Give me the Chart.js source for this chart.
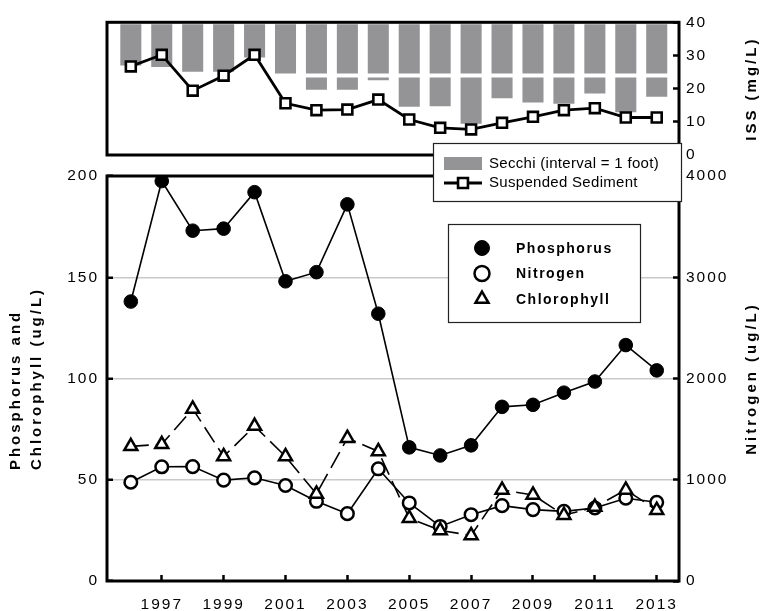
<!DOCTYPE html>
<html>
<head>
<meta charset="utf-8">
<script src="https://cdn.jsdelivr.net/npm/chart.js@4.4.1/dist/chart.umd.min.js"></script>
<style>
  html, body { margin: 0; padding: 0; background: #fff; }
  #wrap { position: relative; width: 765px; height: 611px; }
  #wrap canvas { position: absolute; left: 0; top: 0; }
</style>
</head>
<body>
<div id="wrap">
  <canvas id="nutrients" width="765" height="611"></canvas>
  <canvas id="sediment" width="765" height="611"></canvas>
</div>
<script>
// Sampling years
const years = [1996, 1997, 1998, 1999, 2000, 2001, 2002, 2003, 2004,
               2005, 2006, 2007, 2008, 2009, 2010, 2011, 2012, 2013];

// Water quality series (ug/L)
const phosphorus  = [138, 197.5, 173, 174, 192, 148, 152.5, 186, 132,
                     66, 62, 67, 86, 87, 93, 98.5, 116.5, 104];
const chlorophyll = [66.5, 67.5, 85, 61.5, 76.5, 61.5, 43, 70.5, 64,
                     31, 25, 22.5, 45, 42.5, 32.5, 36.5, 45, 35];
const nitrogen    = [975, 1128, 1130, 996, 1019, 943, 787, 665, 1108,
                     771, 539, 655, 744, 705, 688, 721, 817, 777];

// Inorganic suspended sediment (mg/L) and Secchi depth (feet)
const suspendedSediment = [26.7, 30.2, 19.4, 23.9, 30.2, 15.6, 13.5, 13.7, 16.7,
                           10.7, 8.2, 7.7, 9.7, 11.5, 13.5, 14.1, 11.3, 11.3];
const secchiFeet = [0.85, 0.88, 0.97, 0.97, 0.7, 1.0, 1.31, 1.31, 1.13,
                    1.63, 1.62, 1.95, 1.47, 1.55, 1.57, 1.38, 1.73, 1.44];

// Tick labels
const yearTicks = [1997, 1999, 2001, 2003, 2005, 2007, 2009, 2011, 2013];
const pcTicks   = [0, 50, 100, 150, 200];
const nTicks    = [0, 1000, 2000, 3000, 4000];
const issTicks  = [0, 10, 20, 30, 40];

const FONT = '"Liberation Sans", Arial, Helvetica, sans-serif';
const X_MIN = 1995.23, X_MAX = 2013.72;
const BAR_GRAY = '#949497';

Chart.defaults.font.family = FONT;
Chart.defaults.color = '#000';
Chart.defaults.animation = false;

const pts = (vals) => years.map((x, i) => ({ x, y: vals[i] }));
const fixedTicks = (list) => (scale) => { scale.ticks = list.map(v => ({ value: v })); };
const plainNumber = (v) => String(v);

// Left-aligned text with extra tracking, laid out one glyph at a time.
function trackedText(ctx, text, x, y, tracking) {
  ctx.letterSpacing = '0px';
  ctx.textAlign = 'left';
  let cx = x;
  for (const ch of text) {
    ctx.fillText(ch, cx, y);
    cx += ctx.measureText(ch).width + tracking;
  }
}

// Axis titles read upward on both sides, with the lines of a
// multi-line title sharing a common starting edge.
function drawUprightTitle(scale, spacing) {
  const t = scale.options.title;
  if (!t || !t.display) return;
  const ctx = scale.ctx;
  const font = Chart.helpers.toFont(t.font);
  const pad = Chart.helpers.toPadding(t.padding);
  const lines = [].concat(t.text);
  ctx.save();
  ctx.letterSpacing = spacing;
  ctx.font = font.string;
  ctx.fillStyle = t.color || '#000';
  const widest = Math.max(...lines.map(s => ctx.measureText(s).width));
  const lh = font.lineHeight;
  const x0 = scale.position === 'left'
    ? scale.left + pad.top + lh / 2
    : scale.right - pad.top - lh / 2 - (lines.length - 1) * lh;
  const y0 = (scale.top + scale.bottom) / 2 + widest / 2;
  ctx.translate(x0, y0);
  ctx.rotate(-Math.PI / 2);
  ctx.textAlign = 'left';
  ctx.textBaseline = 'middle';
  lines.forEach((s, i) => ctx.fillText(s, 0, i * lh));
  ctx.restore();
}

const textStyle = {
  id: 'textStyle',
  beforeDraw(chart, args, opts) {
    chart.ctx.letterSpacing = opts.tickSpacing || '0px';
    for (const scale of Object.values(chart.scales)) {
      if (scale.$upright) continue;
      scale.$upright = true;
      scale.drawTitle = function () { drawUprightTitle(this, opts.titleSpacing || '0px'); };
    }
  }
};

// Heavy box around the plotting area
const frame = {
  id: 'frame',
  afterDatasetsDraw(chart, args, opts) {
    const { ctx, chartArea: a } = chart;
    ctx.save();
    ctx.strokeStyle = '#000';
    ctx.lineWidth = opts.width || 3;
    ctx.strokeRect(a.left, a.top, a.right - a.left, a.bottom - a.top);
    ctx.restore();
  }
};

// Boxed key for the nutrient panel
const nutrientKey = {
  id: 'nutrientKey',
  afterDraw(chart, args, o) {
    const ctx = chart.ctx;
    ctx.save();
    ctx.fillStyle = '#fff';
    ctx.fillRect(o.left, o.top, o.width, o.height);
    ctx.strokeStyle = '#222';
    ctx.lineWidth = 1.2;
    ctx.strokeRect(o.left + 0.5, o.top + 0.5, o.width, o.height);
    [0, 1, 2].forEach((di, row) => {
      const ds = chart.data.datasets[di];
      const y = o.top + o.firstRow + row * o.rowGap;
      ctx.fillStyle = ds.pointBackgroundColor;
      ctx.strokeStyle = ds.pointBorderColor;
      ctx.lineWidth = ds.pointBorderWidth;
      ctx.setLineDash([]);
      Chart.helpers.drawPoint(ctx, {
        pointStyle: ds.pointStyle, radius: o.markerRadius, borderWidth: ds.pointBorderWidth, rotation: 0
      }, o.left + o.markerX, y);
      ctx.fillStyle = '#000';
      ctx.font = 'bold 14px ' + FONT;
      ctx.textBaseline = 'middle';
      trackedText(ctx, ds.label, o.left + o.textX, y + 1, 1.5);
    });
    ctx.restore();
  }
};

// Boxed key for the water clarity panel
const clarityKey = {
  id: 'clarityKey',
  afterDraw(chart, args, o) {
    const ctx = chart.ctx;
    const bars = chart.data.datasets[1];
    const line = chart.data.datasets[0];
    ctx.save();
    ctx.fillStyle = '#fff';
    ctx.fillRect(o.left, o.top, o.width, o.height);
    ctx.strokeStyle = '#222';
    ctx.lineWidth = 1.2;
    ctx.strokeRect(o.left + 0.5, o.top + 0.5, o.width, o.height);

    const y1 = o.top + o.firstRow, y2 = y1 + o.rowGap;
    ctx.fillStyle = bars.backgroundColor;
    ctx.fillRect(o.left + o.swatchX, y1 - 7, o.swatchW, 13);

    ctx.strokeStyle = line.borderColor;
    ctx.lineWidth = line.borderWidth;
    ctx.beginPath();
    ctx.moveTo(o.left + o.swatchX, y2);
    ctx.lineTo(o.left + o.swatchX + o.swatchW, y2);
    ctx.stroke();
    ctx.fillStyle = line.pointBackgroundColor;
    ctx.lineWidth = line.pointBorderWidth;
    Chart.helpers.drawPoint(ctx, {
      pointStyle: line.pointStyle, radius: line.pointRadius, borderWidth: line.pointBorderWidth, rotation: 0
    }, o.left + o.swatchX + o.swatchW / 2, y2);

    ctx.fillStyle = '#000';
    ctx.font = '15px ' + FONT;
    ctx.textBaseline = 'middle';
    trackedText(ctx, bars.label, o.left + o.textX, y1, 0.3);
    trackedText(ctx, line.label, o.left + o.textX, y2, 0.3);
    ctx.restore();
  }
};

const tickFont = { size: 15.5 };
const titleFont = { size: 15, weight: 'bold', lineHeight: 1.4 };
const inwardTicks = { tickLength: -6, tickWidth: 2.5, tickColor: '#000' };

// Lower panel: phosphorus, chlorophyll and nitrogen
new Chart(document.getElementById('nutrients'), {
  type: 'line',
  data: {
    datasets: [
      {
        label: 'Phosphorus', data: pts(phosphorus), yAxisID: 'yPC', order: 0,
        borderColor: '#000', borderWidth: 1.6,
        pointStyle: 'circle', pointRadius: 6.8, pointBorderWidth: 1,
        pointBackgroundColor: '#000', pointBorderColor: '#000'
      },
      {
        label: 'Nitrogen', data: pts(nitrogen), yAxisID: 'yN', order: 2,
        borderColor: '#000', borderWidth: 1.6,
        pointStyle: 'circle', pointRadius: 6.3, pointBorderWidth: 2.5,
        pointBackgroundColor: '#fff', pointBorderColor: '#000'
      },
      {
        label: 'Chlorophyll', data: pts(chlorophyll), yAxisID: 'yPC', order: 1,
        borderColor: '#000', borderWidth: 1.6, borderDash: [18, 7],
        pointStyle: 'triangle', pointRadius: 7.5, pointBorderWidth: 2.5,
        pointBackgroundColor: '#fff', pointBorderColor: '#000'
      }
    ]
  },
  options: {
    responsive: false,
    devicePixelRatio: 1,
    layout: { padding: { top: 176, left: 0, right: 0, bottom: 0 } },
    plugins: {
      legend: { display: false },
      tooltip: { enabled: false },
      textStyle: { tickSpacing: '2px', titleSpacing: '3px' },
      frame: { width: 3 },
      nutrientKey: { left: 448, top: 224, width: 192, height: 98,
                     firstRow: 24, rowGap: 25.5, markerX: 34, markerRadius: 7.5, textX: 68 }
    },
    scales: {
      x: {
        type: 'linear', min: X_MIN, max: X_MAX, offset: false,
        afterBuildTicks: fixedTicks(yearTicks),
        afterFit: (s) => { s.height = 30; },
        ticks: { font: tickFont, padding: 20, autoSkip: false, maxRotation: 0, callback: plainNumber },
        grid: { drawOnChartArea: false, ...inwardTicks },
        border: { display: false }
      },
      yPC: {
        type: 'linear', position: 'left', min: 0, max: 200,
        afterBuildTicks: fixedTicks(pcTicks),
        afterFit: (s) => { s.width = 107; },
        ticks: { font: tickFont, padding: 14, callback: plainNumber },
        grid: { color: '#c9c9c9', lineWidth: 1.5, ...inwardTicks },
        border: { display: false },
        title: { display: true, text: ['Phosphorus and', 'Chlorophyll (ug/L)'],
                 font: titleFont, padding: 5 }
      },
      yN: {
        type: 'linear', position: 'right', min: 0, max: 4000,
        afterBuildTicks: fixedTicks(nTicks),
        afterFit: (s) => { s.width = 86; },
        ticks: { font: tickFont, padding: 13, callback: plainNumber },
        grid: { drawOnChartArea: false, ...inwardTicks },
        border: { display: false },
        title: { display: true, text: 'Nitrogen (ug/L)', font: titleFont, padding: 2.5 }
      }
    }
  },
  plugins: [textStyle, frame, nutrientKey]
});

// Upper panel: Secchi depth hanging from the top, sediment on the right axis
new Chart(document.getElementById('sediment'), {
  type: 'line',
  data: {
    datasets: [
      {
        type: 'line', label: 'Suspended Sediment', data: pts(suspendedSediment),
        xAxisID: 'x', yAxisID: 'yIss', order: 0,
        borderColor: '#000', borderWidth: 2.8,
        pointStyle: 'rect', pointRadius: 7, pointBorderWidth: 2.6,
        pointBackgroundColor: '#fff', pointBorderColor: '#000'
      },
      {
        type: 'bar', label: 'Secchi (interval = 1 foot)',
        data: pts(secchiFeet.map(d => Math.min(d, 1))),
        xAxisID: 'x', yAxisID: 'ySecchi', stack: 'secchi', order: 1,
        backgroundColor: BAR_GRAY, borderColor: '#fff', borderWidth: 2, borderSkipped: false,
        barPercentage: 1, categoryPercentage: 0.81
      },
      {
        type: 'bar', label: 'Secchi beyond first foot',
        data: pts(secchiFeet.map(d => (d > 1 ? d - 1 : null))),
        xAxisID: 'x', yAxisID: 'ySecchi', stack: 'secchi', order: 2,
        backgroundColor: BAR_GRAY, borderColor: '#fff', borderWidth: 2, borderSkipped: false,
        barPercentage: 1, categoryPercentage: 0.81
      }
    ]
  },
  options: {
    responsive: false,
    devicePixelRatio: 1,
    layout: { padding: { top: 14, left: 107, right: 0, bottom: 456 } },
    plugins: {
      legend: { display: false },
      tooltip: { enabled: false },
      textStyle: { tickSpacing: '2px', titleSpacing: '3px' },
      frame: { width: 3 },
      clarityKey: { left: 433, top: 143, width: 248, height: 58,
                    firstRow: 21, rowGap: 19, swatchX: 11, swatchW: 38, textX: 56 }
    },
    scales: {
      x: { type: 'linear', min: X_MIN, max: X_MAX, offset: false, display: false },
      ySecchi: { type: 'linear', display: false, reverse: true, min: 0, max: 2.5, stacked: true },
      yIss: {
        type: 'linear', position: 'right', min: 0, max: 40,
        afterBuildTicks: fixedTicks(issTicks),
        afterFit: (s) => { s.width = 86; },
        ticks: { font: tickFont, padding: 13, callback: plainNumber },
        grid: { drawOnChartArea: false, ...inwardTicks },
        border: { display: false },
        title: { display: true, text: 'ISS (mg/L)', font: titleFont, padding: 2.5 }
      }
    }
  },
  plugins: [textStyle, frame, clarityKey]
});
</script>
</body>
</html>
